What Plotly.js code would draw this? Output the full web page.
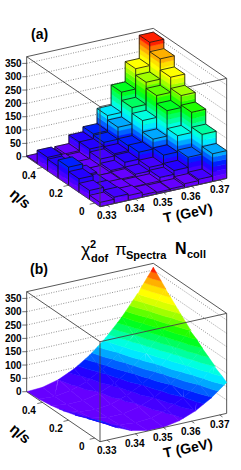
<!DOCTYPE html>
<html><head><meta charset="utf-8">
<script src="https://cdn.plot.ly/plotly-3.0.1.min.js"></script>
<style>html,body{margin:0;padding:0;background:#fff}#c{width:241px;height:470px}</style>
</head><body><div id="c"></div>
<script>
// bin centres
var tempCenters = [0.33,0.335,0.34,0.345,0.35,0.355,0.36,0.365,0.37];
var etaCenters = [0,0.08,0.16,0.24,0.32,0.4,0.48];
var binT = 0.005, binEta = 0.08;
// chi2 per bar, rows = eta (front to back), columns = T
var eta000 = [16,24,18,9,6,8,15,20,104];
var eta008 = [34,22,16,11,11,24,38,76,150];
var eta016 = [51,20,12,15,21,35,69,130,206];
var eta024 = [68,25,12,20,39,65,102,197,242];
var eta032 = [44,10,11,36,44,62,145,227,284];
var eta040 = [51,15,9,47,60,105,167,250,326];
var eta048 = [3,6,14,46,65,122,198,274,361];
var barRows = [eta000,eta008,eta016,eta024,eta032,eta040,eta048];
// surface of panel (b), read on a coarse grid
var surfT = [0.3275,0.3331,0.3388,0.3444,0.35,0.3556,0.3613,0.3669,0.3725];
var surfEta = [-0.04,0.053,0.147,0.24,0.333,0.427,0.52];
var surf0 = [78,41,15,2,1,12,35,70,116];
var surf1 = [56,25,6,0,5,23,53,94,148];
var surf2 = [37,13,1,2,14,38,75,123,183];
var surf3 = [22,5,0,7,26,57,100,155,222];
var surf4 = [11,1,3,16,42,80,130,191,265];
var surf5 = [4,0,9,29,62,106,163,231,312];
var surf6 = [0,3,19,46,85,136,200,275,360];
var surfRows = [surf0,surf1,surf2,surf3,surf4,surf5,surf6];
var zTicks = [0,50,100,150,200,250,300,350];
var tTicks = [0.33,0.34,0.35,0.36,0.37];
var etaTicks = [0,0.2,0.4];
var bandColors = ['#6600ff','#4400ff','#2400ff','#0020ff','#0060ff','#00a8ff','#00e8ff','#00ffe0','#00ffa0','#00ff60',
  '#00ff20','#20ff00','#60ff00','#a0ff00','#d8ff00','#ffff00','#ffe000','#ffb000','#ff7000','#ff2000','#ff0000'];
var bandStep = 18.25;

var Tr=[0.3275,0.3725], Er=[-0.04,0.52], Zmax=375;
var font='"Liberation Sans",Arial,sans-serif';

// oblique projection: front-bottom corner of the box is the origin
function P(t,e,z){
  var a=(t-Tr[0])/(Tr[1]-Tr[0]), b=(e-Er[0])/(Er[1]-Er[0]), c=z/Zmax;
  return [126.67*a-73.33*b, 28.33*a+50*b+100*c];
}
function bandOf(v){return Math.min(bandColors.length-1,Math.floor(v/bandStep));}
function clip(poly,lo,hi){
  function one(pts,keep,lim){
    var out=[];
    for(var i=0;i<pts.length;i++){
      var A=pts[i],B=pts[(i+1)%pts.length],ka=keep(A[2]),kb=keep(B[2]);
      if(ka)out.push(A);
      if(ka!==kb){var f=(lim-A[2])/(B[2]-A[2]);out.push([A[0]+f*(B[0]-A[0]),A[1]+f*(B[1]-A[1]),lim]);}
    }
    return out;
  }
  var r=one(poly,function(z){return z>=lo;},lo);
  if(r.length)r=one(r,function(z){return z<=hi;},hi);
  return r;
}
function polyTraces(polys,ax,ay,out){
  // polys with [t,e,z]; split into colour bands and add one fill trace per band
  for(var b=0;b<bandColors.length;b++){
    var lo=b*bandStep,hi=b===bandColors.length-1?1e9:(b+1)*bandStep,xs=[],ys=[];
    polys.forEach(function(pl){
      var r=clip(pl,lo,hi); if(r.length<3)return;
      r.forEach(function(p){var q=P(p[0],p[1],p[2]);xs.push(q[0]);ys.push(q[1]);});
      var q0=P(r[0][0],r[0][1],r[0][2]);xs.push(q0[0],null);ys.push(q0[1],null);
    });
    if(xs.length)out.push({type:'scatter',mode:'lines',x:xs,y:ys,xaxis:ax,yaxis:ay,fill:'toself',fillcolor:bandColors[b],
      line:{color:bandColors[b],width:0.5},hoverinfo:'skip',showlegend:false});
  }
}
function lineTrace(segs,ax,ay,color,width,dash){
  var xs=[],ys=[];
  segs.forEach(function(s){s.forEach(function(p){var q=P(p[0],p[1],p[2]);xs.push(q[0]);ys.push(q[1]);});xs.push(null);ys.push(null);});
  return {type:'scatter',mode:'lines',x:xs,y:ys,xaxis:ax,yaxis:ay,line:{color:color,width:width,dash:dash||'solid'},hoverinfo:'skip',showlegend:false};
}
var T0=Tr[0],T1=Tr[1],E0=Er[0],E1=Er[1],Z1=Zmax;
function backFrame(ax,ay){
  var grid=zTicks.slice(1).map(function(z){return [[T0,E1,z],[T1,E1,z],[T1,E0,z]];});
  return [lineTrace(grid,ax,ay,'#777',0.8,'1px,1.5px'),
    lineTrace([[[T0,E1,0],[T0,E1,Z1]],[[T1,E0,0],[T1,E0,Z1]],[[T0,E1,Z1],[T1,E1,Z1],[T1,E0,Z1]]],ax,ay,'#444',0.9)];
}
function topFront(ax,ay){return lineTrace([[[T1,E0,Z1],[T0,E0,Z1],[T0,E1,Z1]]],ax,ay,'#444',0.9);}
function frontFrame(ax,ay){
  var ticks=[];
  tTicks.forEach(function(t){ticks.push([[t,E0,0],[t,E0-0.022,0]]);});
  etaTicks.forEach(function(e){ticks.push([[T0,e,0],[T0-0.0018,e,0]]);});
  zTicks.forEach(function(z){ticks.push([[T0,E1,z],[T0-0.0012,E1+0.008,z]]);});
  return [lineTrace([[[T0,E1,0],[T0,E0,0],[T1,E0,0]],[[T0,E0,0],[T0,E0,Z1]]],ax,ay,'#444',0.9),
          lineTrace(ticks,ax,ay,'#333',0.7)];
}
var data=[];
// panel (a)
data=data.concat(backFrame('x','y'));data.push(topFront('x','y'));
for(var j=barRows.length-1;j>=0;j--){
  for(var k=tempCenters.length-1;k>=0;k--){
    var v=barRows[j][k],a=tempCenters[k]-binT/2,b=tempCenters[k]+binT/2,c=etaCenters[j]-binEta/2,d=etaCenters[j]+binEta/2;
    polyTraces([[[a,d,0],[a,c,0],[a,c,v],[a,d,v]],[[a,c,0],[b,c,0],[b,c,v],[a,c,v]]],'x','y',data);
    var col=bandColors[bandOf(v)],tx=[],ty=[];
    [[a,c],[b,c],[b,d],[a,d],[a,c]].forEach(function(p){var q=P(p[0],p[1],v);tx.push(q[0]);ty.push(q[1]);});
    data.push({type:'scatter',mode:'lines',x:tx,y:ty,xaxis:'x',yaxis:'y',fill:'toself',fillcolor:col,line:{color:col,width:0.5},hoverinfo:'skip',showlegend:false});
    data.push(lineTrace([[[a,d,v],[a,c,v],[b,c,v],[b,d,v],[a,d,v]],[[a,c,0],[a,c,v]],[[a,d,0],[a,d,v]],[[b,c,0],[b,c,v]],[[a,c,0],[b,c,0]]],'x','y','#111',0.8));
  }
}
data=data.concat(frontFrame('x','y'));
// panel (b)
data=data.concat(backFrame('x2','y2'));
for(var j2=surfRows.length-2;j2>=0;j2--){
  for(var k2=surfT.length-2;k2>=0;k2--){
    var A=[surfT[k2],surfEta[j2],surfRows[j2][k2]],B=[surfT[k2+1],surfEta[j2],surfRows[j2][k2+1]],
        C=[surfT[k2+1],surfEta[j2+1],surfRows[j2+1][k2+1]],D=[surfT[k2],surfEta[j2+1],surfRows[j2+1][k2]];
    polyTraces([[A,C,D],[A,B,C]],'x2','y2',data);
  }
}
data.push(topFront('x2','y2'));
data=data.concat(frontFrame('x2','y2'));

function ax(dom,r,anchor){return {domain:dom,range:r,anchor:anchor,visible:false,fixedrange:true};}
var f={family:font,size:10,color:'#000'};
var anns=[];
function paperTxt(px,py,t,size,extra){
  var o={xref:'paper',yref:'paper',x:px/241,y:1-py/470,text:t,showarrow:false,xanchor:'center',yanchor:'middle',font:{family:font,size:size,color:'#000'}};
  if(extra)for(var k in extra)o[k]=extra[k]; anns.push(o);
}
[['x','y'],['x2','y2']].forEach(function(p){
  zTicks.forEach(function(z){var q=P(T0,E1,z);anns.push({xref:p[0],yref:p[1],x:q[0],y:q[1],text:'<b>'+z+'</b>',showarrow:false,xanchor:'right',yanchor:'middle',xshift:-3,font:f});});
  tTicks.forEach(function(t){var q=P(t,E0,0);anns.push({xref:p[0],yref:p[1],x:q[0],y:q[1],text:'<b>'+t.toFixed(2)+'</b>',showarrow:false,xanchor:'center',yanchor:'middle',yshift:-10,font:f});});
  etaTicks.forEach(function(e){var q=P(T0,e,0);anns.push({xref:p[0],yref:p[1],x:q[0],y:q[1],text:'<b>'+e+'</b>',showarrow:false,xanchor:'center',yanchor:'middle',xshift:-13,yshift:-8,font:f});});
});
paperTxt(39,34,'<b>(a)</b>',14);paperTxt(39,269,'<b>(b)</b>',14);
[0,235].forEach(function(o){
  paperTxt(188,213+o,'<b>T (GeV)</b>',14,{textangle:-12});
  paperTxt(21,198+o,'<b>η/s</b>',15,{textangle:40});
});
paperTxt(86,250,'χ',18);paperTxt(93,244,'<b>2</b>',11);paperTxt(99,258,'<b>dof</b>',11);
paperTxt(121,249,'π',17);paperTxt(146,255,'<b>Spectra</b>',11);paperTxt(181,248,'<b>N</b>',16);paperTxt(196,254,'<b>coll</b>',11);

Plotly.newPlot('c',data,{width:241,height:470,margin:{l:0,r:0,t:0,b:0},paper_bgcolor:'#fff',plot_bgcolor:'rgba(0,0,0,0)',showlegend:false,
  xaxis:ax([0,1],[-100,141],'y'),yaxis:ax([0.5,1],[-28.3,206.7],'x'),
  xaxis2:ax([0,1],[-100,141],'y2'),yaxis2:ax([0,0.5],[-28.3,206.7],'x2'),
  annotations:anns},{displayModeBar:false,staticPlot:true});
</script></body></html>
